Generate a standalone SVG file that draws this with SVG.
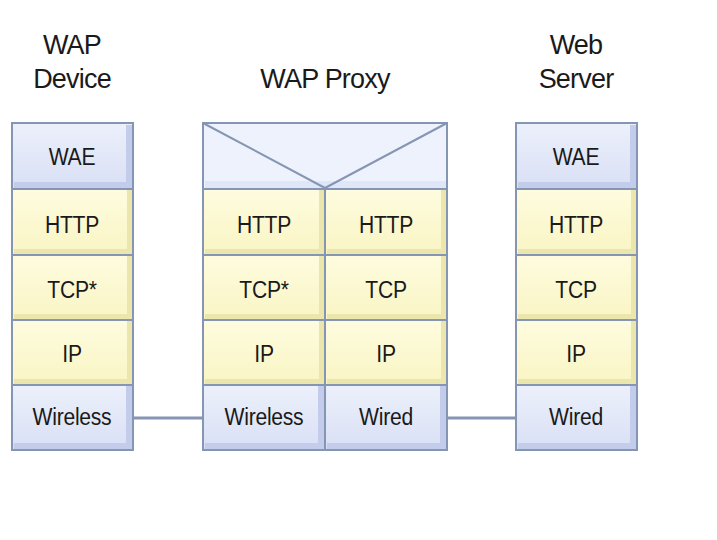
<svg xmlns="http://www.w3.org/2000/svg" width="717" height="540" viewBox="0 0 717 540">
<style>
.hd{font-family:"Liberation Sans",Arial,sans-serif;font-size:27px;fill:#1a1a1a;text-anchor:middle;letter-spacing:-0.8px}
.lb{font-family:"Liberation Sans",Arial,sans-serif;font-size:24px;fill:#1a1a1a;text-anchor:middle;letter-spacing:-0.3px}
.b{fill:url(#gb)}
.y{fill:url(#gy)}
.sb{fill:#c3cdeb}
.sy{fill:#ebe6ab}
.fr{fill:none;stroke:#8596b4;stroke-width:2}
.cn{stroke:#8596b4;stroke-width:3;fill:none}
</style>
<defs>
<linearGradient id="gb" x1="0" y1="0" x2="0" y2="1"><stop offset="0" stop-color="#ecf0fb"/><stop offset="1" stop-color="#d9e0f5"/></linearGradient>
<linearGradient id="gy" x1="0" y1="0" x2="0" y2="1"><stop offset="0" stop-color="#fefcdf"/><stop offset="1" stop-color="#f9f5c4"/></linearGradient>
</defs>
<text class="hd" x="72" y="54">WAP</text>
<text class="hd" x="72" y="88">Device</text>
<text class="hd" x="325" y="88">WAP Proxy</text>
<text class="hd" x="576" y="54">Web</text>
<text class="hd" x="576" y="88">Server</text>
<g id="connectors">
<line class="cn" x1="133" y1="418" x2="203" y2="418"/>
<line class="cn" x1="447" y1="418" x2="516" y2="418"/>
</g>
<g id="wap-device">
<rect class="b" x="12" y="123" width="121" height="66"/><rect class="sb" x="126" y="125" width="6" height="63"/><rect class="sb" x="14" y="182" width="118" height="6"/>
<rect class="y" x="12" y="189" width="121" height="66"/><rect class="sy" x="127" y="190" width="5" height="64"/><rect class="sy" x="14" y="249" width="118" height="5"/>
<rect class="y" x="12" y="255" width="121" height="65"/><rect class="sy" x="127" y="256" width="5" height="63"/><rect class="sy" x="14" y="314" width="118" height="5"/>
<rect class="y" x="12" y="320" width="121" height="65"/><rect class="sy" x="127" y="321" width="5" height="63"/><rect class="sy" x="14" y="379" width="118" height="5"/>
<rect class="b" x="12" y="385" width="121" height="65"/><rect class="sb" x="126" y="386" width="6" height="63"/><rect class="sb" x="14" y="443" width="118" height="6"/>
<rect class="fr" x="12" y="123" width="121" height="327"/>
<path class="fr" d="M12 189H133M12 255H133M12 320H133M12 385H133"/>
<text class="lb" transform="translate(72 165) scale(0.88 1)">WAE</text>
<text class="lb" transform="translate(72 233) scale(0.88 1)">HTTP</text>
<text class="lb" transform="translate(72 298) scale(0.88 1)">TCP*</text>
<text class="lb" transform="translate(72 362) scale(0.88 1)">IP</text>
<text class="lb" transform="translate(72 425) scale(0.88 1)">Wireless</text>
</g>
<g id="wap-proxy">
<rect x="203" y="123" width="244" height="66" fill="#eef2fc"/><rect x="205" y="181" width="241" height="7" fill="#dfe6f7"/>
<rect class="y" x="203" y="189" width="122" height="66"/><rect class="sy" x="319" y="190" width="5" height="64"/><rect class="sy" x="205" y="249" width="119" height="5"/>
<rect class="y" x="325" y="189" width="122" height="66"/><rect class="sy" x="441" y="190" width="5" height="64"/><rect class="sy" x="327" y="249" width="119" height="5"/>
<rect class="y" x="203" y="255" width="122" height="65"/><rect class="sy" x="319" y="256" width="5" height="63"/><rect class="sy" x="205" y="314" width="119" height="5"/>
<rect class="y" x="325" y="255" width="122" height="65"/><rect class="sy" x="441" y="256" width="5" height="63"/><rect class="sy" x="327" y="314" width="119" height="5"/>
<rect class="y" x="203" y="320" width="122" height="65"/><rect class="sy" x="319" y="321" width="5" height="63"/><rect class="sy" x="205" y="379" width="119" height="5"/>
<rect class="y" x="325" y="320" width="122" height="65"/><rect class="sy" x="441" y="321" width="5" height="63"/><rect class="sy" x="327" y="379" width="119" height="5"/>
<rect class="b" x="203" y="385" width="122" height="65"/><rect class="sb" x="318" y="386" width="6" height="63"/><rect class="sb" x="205" y="443" width="119" height="6"/>
<rect class="b" x="325" y="385" width="122" height="65"/><rect class="sb" x="440" y="386" width="6" height="63"/><rect class="sb" x="327" y="443" width="119" height="6"/>
<rect class="fr" x="203" y="123" width="244" height="327"/>
<path class="fr" d="M203 189H447M203 255H447M203 320H447M203 385H447M325 189V450M203 123L325 188L447 123"/>
<text class="lb" transform="translate(264 233) scale(0.88 1)">HTTP</text>
<text class="lb" transform="translate(386 233) scale(0.88 1)">HTTP</text>
<text class="lb" transform="translate(264 298) scale(0.88 1)">TCP*</text>
<text class="lb" transform="translate(386 298) scale(0.88 1)">TCP</text>
<text class="lb" transform="translate(264 362) scale(0.88 1)">IP</text>
<text class="lb" transform="translate(386 362) scale(0.88 1)">IP</text>
<text class="lb" transform="translate(264 425) scale(0.88 1)">Wireless</text>
<text class="lb" transform="translate(386 425) scale(0.88 1)">Wired</text>
</g>
<g id="web-server">
<rect class="b" x="516" y="123" width="121" height="66"/><rect class="sb" x="630" y="125" width="6" height="63"/><rect class="sb" x="518" y="182" width="118" height="6"/>
<rect class="y" x="516" y="189" width="121" height="66"/><rect class="sy" x="631" y="190" width="5" height="64"/><rect class="sy" x="518" y="249" width="118" height="5"/>
<rect class="y" x="516" y="255" width="121" height="65"/><rect class="sy" x="631" y="256" width="5" height="63"/><rect class="sy" x="518" y="314" width="118" height="5"/>
<rect class="y" x="516" y="320" width="121" height="65"/><rect class="sy" x="631" y="321" width="5" height="63"/><rect class="sy" x="518" y="379" width="118" height="5"/>
<rect class="b" x="516" y="385" width="121" height="65"/><rect class="sb" x="630" y="386" width="6" height="63"/><rect class="sb" x="518" y="443" width="118" height="6"/>
<rect class="fr" x="516" y="123" width="121" height="327"/>
<path class="fr" d="M516 189H637M516 255H637M516 320H637M516 385H637"/>
<text class="lb" transform="translate(576 165) scale(0.88 1)">WAE</text>
<text class="lb" transform="translate(576 233) scale(0.88 1)">HTTP</text>
<text class="lb" transform="translate(576 298) scale(0.88 1)">TCP</text>
<text class="lb" transform="translate(576 362) scale(0.88 1)">IP</text>
<text class="lb" transform="translate(576 425) scale(0.88 1)">Wired</text>
</g>
</svg>
